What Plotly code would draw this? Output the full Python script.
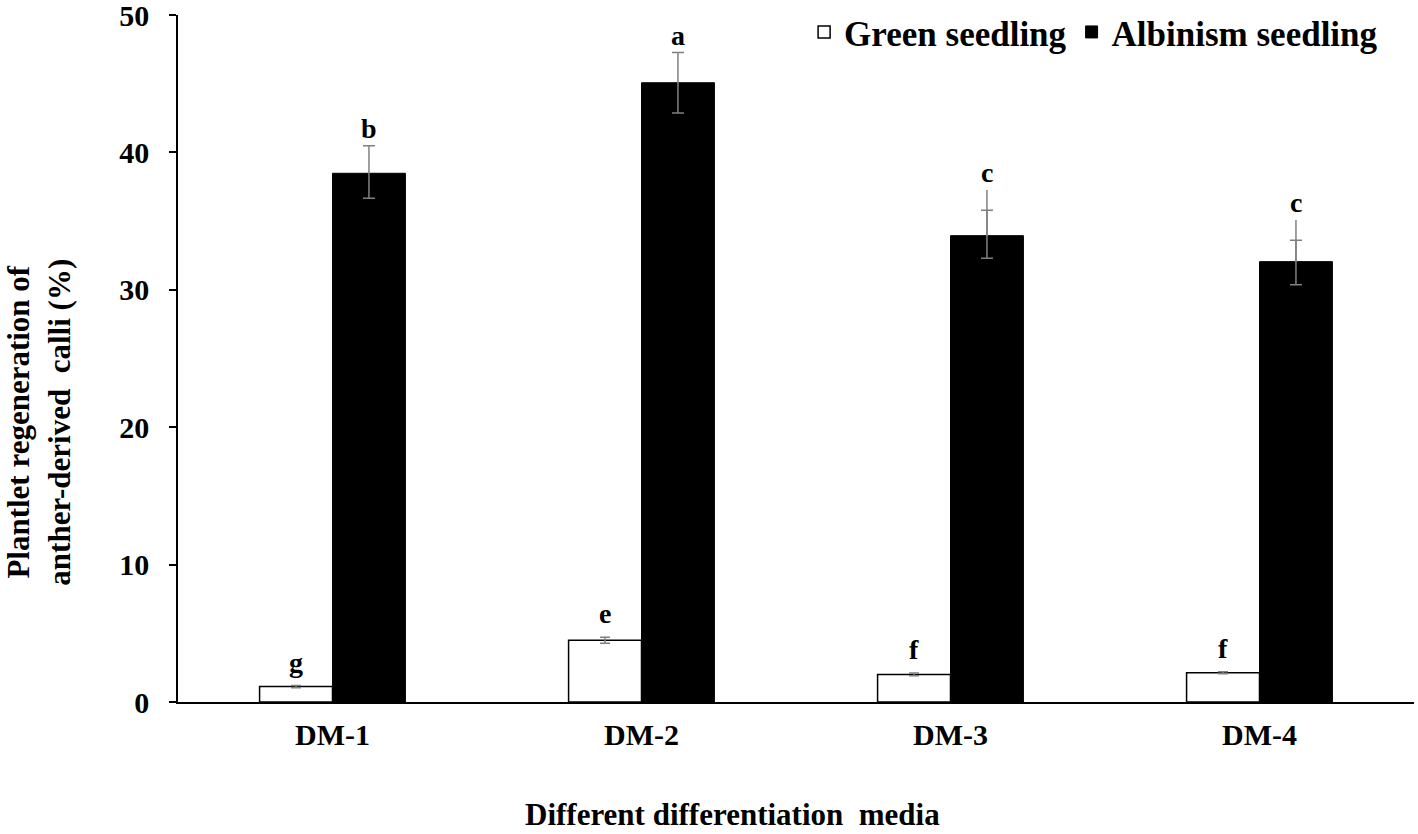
import plotly.graph_objects as go

categories = ["DM-1", "DM-2", "DM-3", "DM-4"]
green_vals = [1.12, 4.49, 2.01, 2.13]
green_err = [0.08, 0.22, 0.1, 0.08]
albino_vals = [38.48, 45.07, 33.94, 32.05]
albino_err_plus = [2.0, 2.2, 1.85, 1.55]
albino_err_minus = [1.82, 2.2, 1.65, 1.68]
albino_err_outer = [0, 0, 3.32, 3.03]
green_letters = ["g", "e", "f", "f"]
albino_letters = ["b", "a", "c", "c"]

FONT = "Times New Roman, Liberation Serif, serif"
BW = 0.236
xg = [i - BW / 2 for i in range(len(categories))]
xa = [i + BW / 2 for i in range(len(categories))]
ERR_COLOR = "#808080"

fig = go.Figure()
fig.add_trace(go.Bar(
    x=xg, y=green_vals, width=BW, name="Green seedling",
    marker=dict(color="white", line=dict(color="black", width=1.5)),
    error_y=dict(type="data", array=green_err, color=ERR_COLOR, thickness=1.5, width=5),
))
fig.add_trace(go.Bar(
    x=xa, y=albino_vals, width=BW, name="Albinism seedling",
    marker=dict(color="black", line=dict(color="black", width=1)),
    error_y=dict(type="data", symmetric=False, array=albino_err_plus, arrayminus=albino_err_minus,
                 color=ERR_COLOR, thickness=1.5, width=6),
))
fig.add_trace(go.Scatter(
    x=xa, y=albino_vals, mode="markers", marker=dict(opacity=0, size=1),
    showlegend=False, hoverinfo="skip",
    error_y=dict(type="data", symmetric=False, array=albino_err_outer,
                 arrayminus=[0] * len(categories), color=ERR_COLOR, thickness=1.5, width=0),
))

for i in range(len(categories)):
    fig.add_annotation(x=xg[i], y=green_vals[i] + green_err[i], text=green_letters[i],
                       showarrow=False, yanchor="bottom", yshift=6,
                       font=dict(family=FONT, size=28, color="black", weight="bold"))
    top = albino_vals[i] + max(albino_err_plus[i], albino_err_outer[i])
    fig.add_annotation(x=xa[i], y=top, text=albino_letters[i],
                       showarrow=False, yanchor="bottom", yshift=0,
                       font=dict(family=FONT, size=28, color="black", weight="bold"))

fig.add_annotation(xref="paper", yref="paper", x=0.449, y=-0.1921,
                   text="Different differentiation  media", showarrow=False,
                   xanchor="center", yanchor="bottom",
                   font=dict(family=FONT, size=31, color="black", weight="bold"))
fig.add_annotation(xref="paper", yref="paper", x=-0.1125, y=0.408,
                   text="Plantlet regeneration of<br>anther-derived  calli (%)", showarrow=False,
                   textangle=-90, xanchor="center", yanchor="middle",
                   font=dict(family=FONT, size=31, color="black", weight="bold"))

fig.update_layout(
    width=1418, height=834,
    margin=dict(l=178, r=4, t=15, b=132, autoexpand=False),
    paper_bgcolor="white", plot_bgcolor="white",
    barmode="overlay",
    showlegend=True,
    legend=dict(orientation="h", x=0.975, xanchor="right", y=0.975, yanchor="middle",
                font=dict(family=FONT, size=35, color="black", weight="bold"),
                bgcolor="rgba(0,0,0,0)", itemwidth=30, traceorder="normal"),
    xaxis=dict(range=[-0.5, 3.5], tickvals=list(range(len(categories))), ticktext=categories,
               showline=True, linecolor="black", linewidth=1.5, ticks="", showgrid=False,
               zeroline=False, ticklabelstandoff=5, ticklabeloverflow="allow",
               tickfont=dict(family=FONT, size=30, color="black", weight="bold")),
    yaxis=dict(range=[0, 50], dtick=10, showline=True, linecolor="black", linewidth=1.5,
               ticks="outside", ticklen=7, tickcolor="black", tickwidth=1.5, showgrid=False,
               zeroline=False, ticklabelstandoff=14, ticklabeloverflow="allow",
               tickfont=dict(family=FONT, size=30, color="black", weight="bold")),
)

fig.write_html("out.html", config={"displayModeBar": False},
               post_script="document.body.style.margin='0px';")
